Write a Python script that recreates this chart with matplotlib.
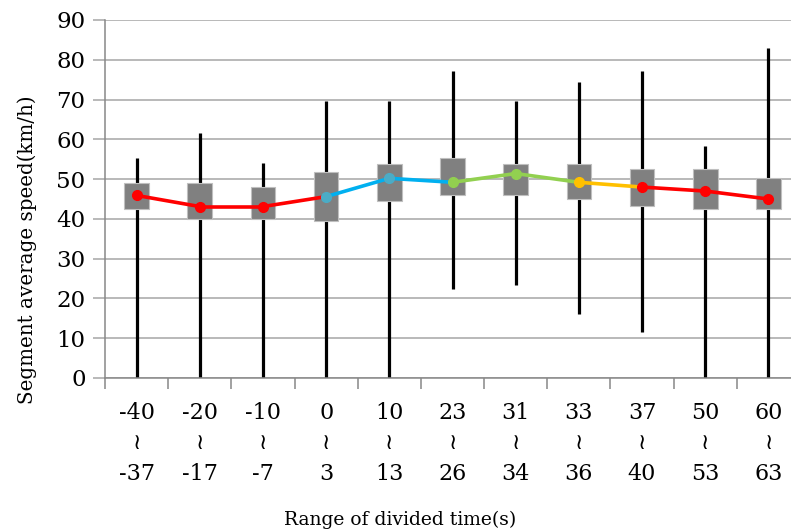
import matplotlib.pyplot as plt
import numpy as np
from matplotlib.patches import Rectangle

# ======== Data ========
range_start = ['-40', '-20', '-10', '0', '10', '23', '31', '33', '37', '50', '60']
range_end   = ['-37', '-17', '-7', '3', '13', '26', '34', '36', '40', '53', '63']

v_min  = [0, 0, 0, 0, 0, 22.5, 23.5, 16.0, 11.6, 0, 0]
v_max  = [55.3, 61.6, 54.0, 69.7, 69.7, 77.1, 69.6, 74.4, 77.1, 58.4, 83.0]
q_low  = [42.4, 40.0, 40.0, 39.4, 44.4, 46.0, 46.0, 45.0, 43.2, 42.4, 42.4]
q_high = [49.0, 49.0, 47.9, 51.7, 53.8, 55.3, 53.8, 53.8, 52.5, 52.5, 50.2]
mean   = [45.9, 43.1, 43.1, 45.6, 50.2, 49.2, 51.4, 49.2, 48.0, 47.0, 45.0]

# colour group of each point (line segment takes colour of its starting point)
group = ['red', 'red', 'red', 'blue', 'blue', 'green', 'green', 'yellow', 'red', 'red', 'red']
line_colors = {'red': '#FF0000', 'blue': '#00B0F0', 'green': '#92D050', 'yellow': '#FFC000'}
dot_colors  = {'red': '#FF0000', 'blue': '#4BACC6', 'green': '#92D050', 'yellow': '#FFC000'}

# ======== Plotting ========
plt.rcParams['font.family'] = ['DejaVu Serif', 'DejaVu Sans']

fig = plt.figure(figsize=(7.91, 5.31), dpi=100)
ax = fig.add_axes([105 / 791, 1 - 378 / 531, 695 / 791, 358 / 531])

x = np.arange(len(range_start))
box_w = 0.39

for i in x:
    ax.plot([i, i], [v_min[i], v_max[i]], color='black', lw=2.3, zorder=2,
            solid_capstyle='butt')
    ax.add_patch(Rectangle((i - box_w / 2, q_low[i]), box_w, q_high[i] - q_low[i],
                           facecolor='#808080', edgecolor='#BFBFBF', lw=0.8, zorder=3))

for i in range(len(x) - 1):
    ax.plot([x[i], x[i + 1]], [mean[i], mean[i + 1]],
            color=line_colors[group[i]], lw=2.6, zorder=4, solid_capstyle='round')
for i in x:
    ax.plot(x[i], mean[i], 'o', color=dot_colors[group[i]], ms=7, zorder=5)

ax.set_xlim(-0.5, 10.5)
ax.set_ylim(0, 90)
ax.set_yticks(np.arange(0, 91, 10))
ax.grid(axis='y', color='#A6A6A6', lw=1.1)
ax.set_axisbelow(True)

ax.set_xticks(x)
ax.set_xticklabels([f'{a}\n≀\n{b}' for a, b in zip(range_start, range_end)],
                   linespacing=1.5)
ax.set_xticks(np.arange(-0.5, 10.6, 1), minor=True)
ax.tick_params(axis='x', which='major', length=0, pad=17, labelsize=16)
ax.tick_params(axis='x', which='minor', length=8, width=1.1, color='#888888')
ax.tick_params(axis='y', length=9, width=1.1, color='#A6A6A6', pad=5, labelsize=16.5)

for s in ['top', 'right']:
    ax.spines[s].set_visible(False)
for s in ['left', 'bottom']:
    ax.spines[s].set_color('#888888')
    ax.spines[s].set_linewidth(1.1)

# axis titles, placed where the reference has them
fig.text(400 / 791, 1 - 520 / 531, 'Range of divided time(s)', fontsize=13.5,
         ha='center', va='center')
fig.text(27 / 791, 1 - 250 / 531, 'Segment average speed(km/h)', fontsize=14.3,
         ha='center', va='center', rotation=90)

fig.savefig('out.png', dpi=100)
